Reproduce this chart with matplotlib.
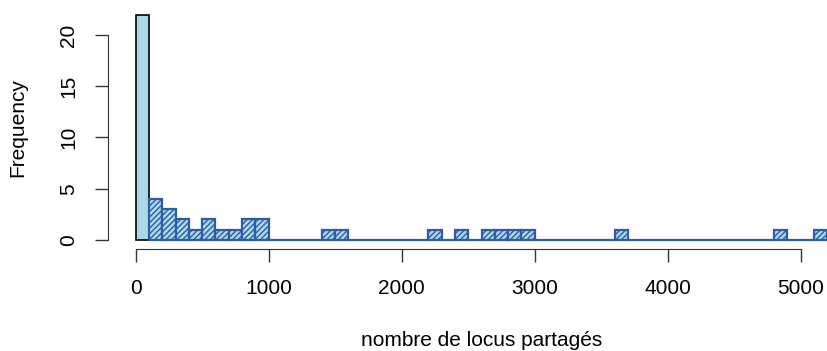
import matplotlib

matplotlib.use("Agg")
import matplotlib.pyplot as plt
import numpy as np

# Histogramme : classes de largeur 100, de 0 a 5200
bords = list(range(0, 5300, 100))
effectifs = [
    22, 4, 3, 2, 1, 2, 1, 1, 2, 2,
    0, 0, 0, 0, 1, 1, 0, 0, 0, 0,
    0, 0, 1, 0, 1, 0, 1, 1, 1, 1,
    0, 0, 0, 0, 0, 0, 1, 0, 0, 0,
    0, 0, 0, 0, 0, 0, 0, 0, 1, 0,
    0, 1,
]
graduations_x = [0, 1000, 2000, 3000, 4000, 5000]
graduations_y = [0, 5, 10, 15, 20]

BLEU_CLAIR = "#ADD8E6"
BLEU = "#2E5CA8"

plt.rcParams["font.family"] = ["Liberation Sans", "DejaVu Sans"]
plt.rcParams["hatch.linewidth"] = 1.0

fig = plt.figure(figsize=(8.27, 3.51), dpi=100)
ax = fig.add_axes([108 / 827, 102 / 351, 747 / 827, 243.5 / 351])

gauches = np.array(bords[:-1])
largeur = 100

# premiere classe : fond bleu clair, bord noir
ax.bar(gauches[:1], effectifs[:1], width=largeur, align="edge",
       color=BLEU_CLAIR, edgecolor="black", linewidth=1.2)
# autres classes : hachures bleues
ax.bar(gauches[1:], effectifs[1:], width=largeur, align="edge",
       color=BLEU_CLAIR, edgecolor=BLEU, hatch="//////", linewidth=1.6)

marge_x = 0.04 * (bords[-1] - bords[0])
ax.set_xlim(bords[0] - marge_x, bords[-1] + marge_x)
ax.set_ylim(-0.04 * 22, 22 * 1.04)

for cote in ["top", "right"]:
    ax.spines[cote].set_visible(False)
ax.spines["left"].set_bounds(0, 20)
ax.spines["bottom"].set_bounds(0, 5000)
ax.spines["left"].set_color("#333333")
ax.spines["bottom"].set_color("#333333")

ax.set_xticks(graduations_x)
ax.set_yticks(graduations_y)
ax.set_yticklabels([str(v) for v in graduations_y], rotation=90, va="center")
ax.tick_params(direction="out", length=9.5, width=1, colors="#333333",
               labelcolor="black", labelsize=15, pad=12)

ax.set_xlabel("nombre de locus partagés", fontsize=15, va="center")
ax.xaxis.set_label_coords((482 - 108) / 747, -91 / 243.5)
ax.set_ylabel("Frequency", fontsize=15, va="center")
ax.yaxis.set_label_coords((18 - 108) / 747, 0.5)

fig.savefig("out.png", dpi=100)
